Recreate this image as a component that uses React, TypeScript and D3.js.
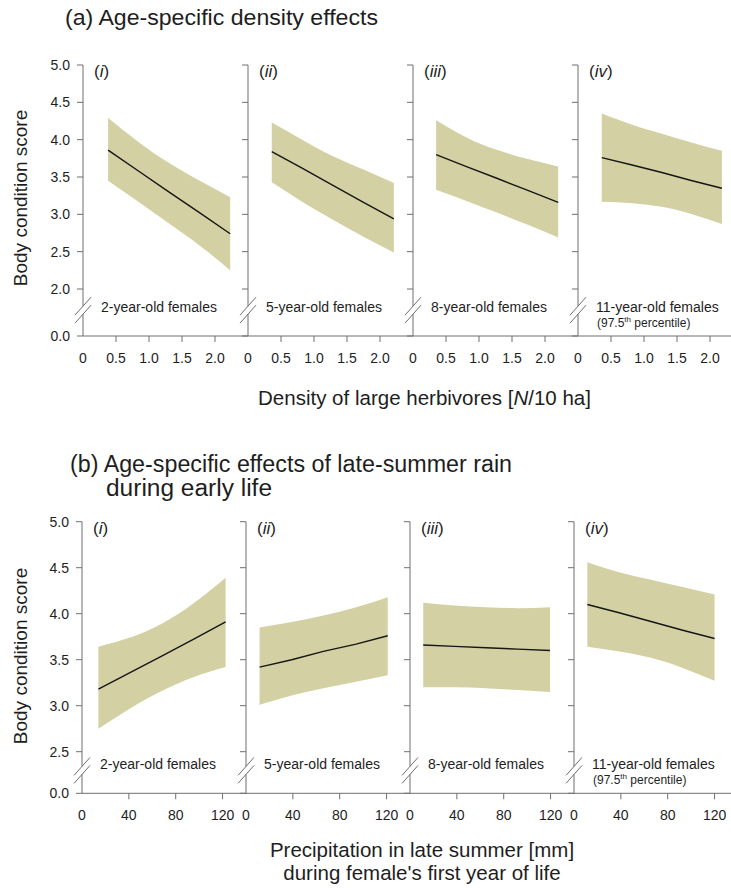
import React from 'react';
import * as d3 from 'd3';

// ---- Data: fitted body condition score with 95% confidence band ----
const ageGroups = ['2-year-old females', '5-year-old females', '8-year-old females', '11-year-old females'];
const panelNumerals = ['i', 'ii', 'iii', 'iv'];

// (a) density of large herbivores [N/10 ha]
const densityX = [
  [0.38, 0.84, 1.3, 1.77, 2.23],
  [0.36, 0.82, 1.28, 1.75, 2.21],
  [0.35, 0.81, 1.28, 1.74, 2.2],
  [0.36, 0.82, 1.27, 1.73, 2.18],
];
const densityFit = [
  [3.86, 3.58, 3.3, 3.02, 2.74],
  [3.84, 3.62, 3.39, 3.16, 2.94],
  [3.8, 3.64, 3.48, 3.32, 3.16],
  [3.76, 3.66, 3.56, 3.45, 3.35],
];
const densityUpper = [
  [4.29, 3.97, 3.69, 3.45, 3.23],
  [4.23, 4.0, 3.78, 3.6, 3.42],
  [4.26, 4.03, 3.86, 3.74, 3.64],
  [4.35, 4.2, 4.08, 3.96, 3.85],
];
const densityLower = [
  [3.45, 3.17, 2.88, 2.58, 2.25],
  [3.43, 3.17, 2.93, 2.7, 2.49],
  [3.33, 3.18, 3.02, 2.86, 2.69],
  [3.17, 3.15, 3.1, 3.0, 2.87],
];

// (b) late-summer precipitation [mm] in the first year of life
const rainX = [
  [14, 41, 68, 95, 122.6],
  [11.6, 39, 66, 94, 121],
  [11.3, 38, 65, 92, 119.5],
  [11.4, 38.5, 65.7, 92.8, 120],
];
const rainFit = [
  [3.18, 3.36, 3.54, 3.72, 3.91],
  [3.42, 3.5, 3.59, 3.67, 3.76],
  [3.66, 3.645, 3.63, 3.615, 3.6],
  [4.1, 4.01, 3.915, 3.82, 3.73],
];
const rainUpper = [
  [3.64, 3.74, 3.89, 4.11, 4.39],
  [3.85, 3.91, 3.98, 4.07, 4.18],
  [4.12, 4.09, 4.07, 4.06, 4.07],
  [4.56, 4.45, 4.37, 4.29, 4.21],
];
const rainLower = [
  [2.75, 2.97, 3.16, 3.31, 3.42],
  [3.01, 3.11, 3.19, 3.26, 3.33],
  [3.2, 3.2, 3.19, 3.17, 3.15],
  [3.64, 3.59, 3.52, 3.41, 3.27],
];

// Axis ticks
const densityTicks = [0, 0.5, 1, 1.5, 2];
const densityTickLabels = ['0', '0.5', '1.0', '1.5', '2.0'];
const rainTicks = [0, 40, 80, 120];
const rainTickLabels = ['0', '40', '80', '120'];
const scoreTicksA = [0, 2, 2.5, 3, 3.5, 4, 4.5, 5];
const scoreTicksB = [0, 2.5, 3, 3.5, 4, 4.5, 5];

const FONT = "'Liberation Sans', Arial, Helvetica, sans-serif";
const TEXT = '#1e1e1e';
const AXIS = '#6e6e6e';
const BAND = '#d3d1a3';

type SectionProps = {
  xs: number[][];
  fit: number[][];
  upper: number[][];
  lower: number[][];
  xDomain: [number, number];
  xTicks: number[];
  xTickLabels: string[];
  yTicks: number[];
  yLow: number;
  topY: number;
  lowY: number;
  zeroY: number;
  left0: number;
  panelW: number;
};

function Section(p: SectionProps) {
  // broken y axis: 0 sits below the break, the rest is linear
  const y = d3.scaleLinear().domain([0, p.yLow, 5]).range([p.zeroY, p.lowY, p.topY]);
  const breakY = p.zeroY - 0.55 * (p.zeroY - p.lowY);
  const axisEnd = p.left0 + 4 * p.panelW + 12;

  return (
    <g>
      {/* bottom axis line across all panels */}
      <line x1={p.left0} x2={axisEnd} y1={p.zeroY} y2={p.zeroY} stroke={AXIS} strokeWidth={1} />
      {p.xs.map((xv, i) => {
        const left = p.left0 + i * p.panelW;
        const x = d3.scaleLinear().domain(p.xDomain).range([left, left + p.panelW]);
        const pts = xv.map((v, k) => ({ x: v, f: p.fit[i][k], u: p.upper[i][k], l: p.lower[i][k] }));
        const area = d3
          .area<any>()
          .x((d) => x(d.x))
          .y0((d) => y(d.l))
          .y1((d) => y(d.u))
          .curve(d3.curveNatural);
        const line = d3
          .line<any>()
          .x((d) => x(d.x))
          .y((d) => y(d.f));
        const ax = x(0);
        return (
          <g key={i}>
            <path d={area(pts) || ''} fill={BAND} />
            <path d={line(pts) || ''} fill="none" stroke="#151515" strokeWidth={1.4} />
            {/* vertical axis with break */}
            <line x1={ax} x2={ax} y1={y(5)} y2={breakY - 4} stroke={AXIS} />
            <line x1={ax} x2={ax} y1={breakY + 4} y2={p.zeroY} stroke={AXIS} />
            <line x1={ax - 8} x2={ax + 8} y1={breakY + 5} y2={breakY - 13} stroke={AXIS} />
            <line x1={ax - 8} x2={ax + 8} y1={breakY + 13} y2={breakY - 5} stroke={AXIS} />
            {p.yTicks.map((t) => (
              <line key={t} x1={ax - 6} x2={ax} y1={y(t)} y2={y(t)} stroke={AXIS} />
            ))}
            {i === 0 &&
              p.yTicks.map((t) => (
                <text key={'l' + t} x={ax - 13} y={y(t) + 5} textAnchor="end" fontSize={14} fill={TEXT}>
                  {t.toFixed(1)}
                </text>
              ))}
            {p.xTicks.map((t, k) => (
              <g key={'x' + t}>
                {t > 0 && <line x1={x(t)} x2={x(t)} y1={p.zeroY} y2={p.zeroY + 6} stroke={AXIS} />}
                <text x={x(t)} y={p.zeroY + 27} textAnchor="middle" fontSize={14} fill={TEXT}>
                  {p.xTickLabels[k]}
                </text>
              </g>
            ))}
            {/* panel numeral */}
            <text x={ax + 11} y={y(5) + 12} fontSize={17} fill={TEXT}>
              (<tspan fontStyle="italic">{panelNumerals[i]}</tspan>)
            </text>
            {/* age group */}
            <text x={ax + 18} y={p.zeroY - 24} fontSize={14} fill={TEXT}>
              {ageGroups[i]}
            </text>
            {i === 3 && (
              <text x={ax + 19} y={p.zeroY - 9} fontSize={12} fill={TEXT}>
                (97.5
                <tspan fontSize={8} dy={-5}>th</tspan>
                <tspan dy={5}> percentile)</tspan>
              </text>
            )}
          </g>
        );
      })}
    </g>
  );
}

export default function App() {
  return (
    <svg
      width={731}
      height={891}
      style={{ position: 'absolute', left: 0, top: 0, background: '#fff' }}
      fontFamily={FONT}
    >
      <rect width={731} height={891} fill="#fff" />
      {/* (a) */}
      <text x={65} y={25} fontSize={22.5} fill={TEXT} textLength={313} lengthAdjust="spacingAndGlyphs">
        (a) Age-specific density effects
      </text>
      <text transform="translate(27,198) rotate(-90)" textAnchor="middle" fontSize={19} fill={TEXT}>
        Body condition score
      </text>
      <Section
        xs={densityX}
        fit={densityFit}
        upper={densityUpper}
        lower={densityLower}
        xDomain={[0, 2.5]}
        xTicks={densityTicks}
        xTickLabels={densityTickLabels}
        yTicks={scoreTicksA}
        yLow={2}
        topY={65}
        lowY={289}
        zeroY={336}
        left0={83}
        panelW={165}
      />
      <text x={258} y={405} fontSize={20.5} fill={TEXT} textLength={333} lengthAdjust="spacingAndGlyphs">
        Density of large herbivores [<tspan fontStyle="italic">N</tspan>/10 ha]
      </text>

      {/* (b) */}
      <text x={70} y={472} fontSize={23} fill={TEXT} textLength={442} lengthAdjust="spacingAndGlyphs">
        (b) Age-specific effects of late-summer rain
      </text>
      <text x={106} y={496} fontSize={23} fill={TEXT} textLength={166} lengthAdjust="spacingAndGlyphs">
        during early life
      </text>
      <text transform="translate(27,656) rotate(-90)" textAnchor="middle" fontSize={19} fill={TEXT}>
        Body condition score
      </text>
      <Section
        xs={rainX}
        fit={rainFit}
        upper={rainUpper}
        lower={rainLower}
        xDomain={[0, 140]}
        xTicks={rainTicks}
        xTickLabels={rainTickLabels}
        yTicks={scoreTicksB}
        yLow={2.5}
        topY={521.7}
        lowY={751.7}
        zeroY={793.3}
        left0={82}
        panelW={164}
      />
      <text x={422} y={857} textAnchor="middle" fontSize={20.5} fill={TEXT}>
        Precipitation in late summer [mm]
      </text>
      <text x={422} y={880} textAnchor="middle" fontSize={20.5} fill={TEXT}>
        during female's first year of life
      </text>
    </svg>
  );
}
